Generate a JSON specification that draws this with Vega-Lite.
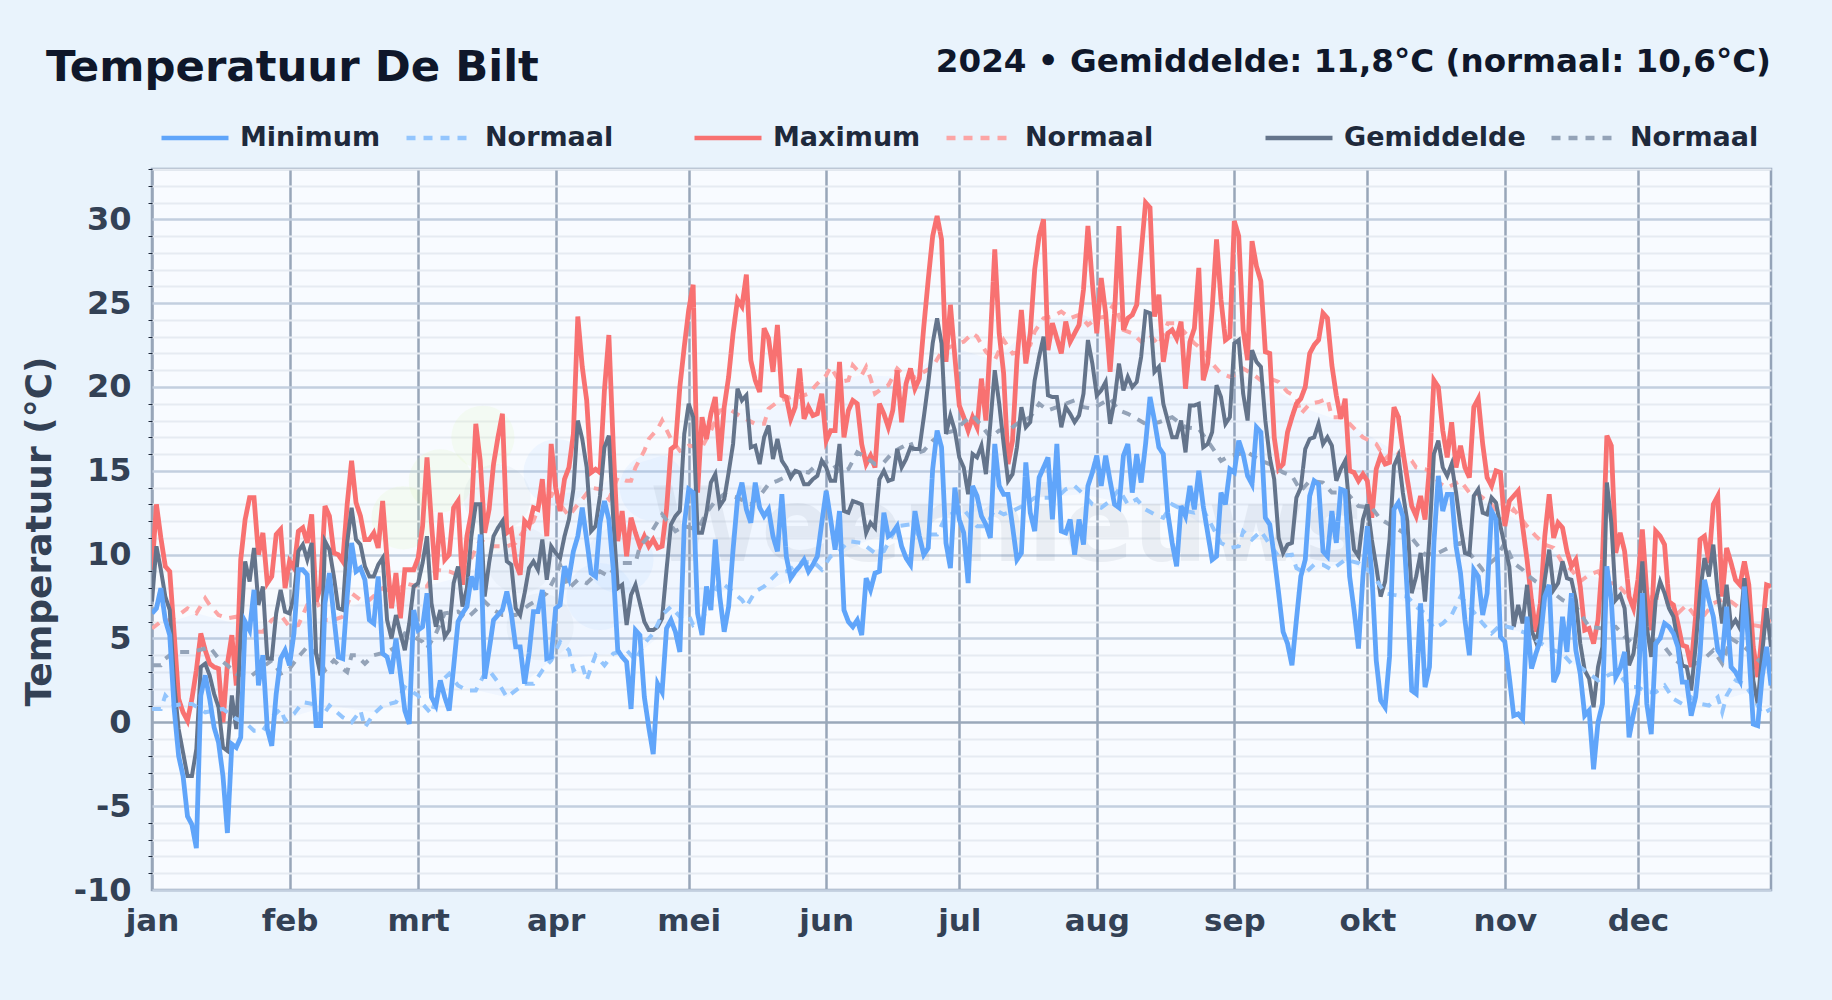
{
"$schema":"https://vega.github.io/schema/vega-lite/v6.json",
"autosize":{"type":"none"},
"width":1619,"height":721,
"padding":{"left":152,"top":169,"right":61,"bottom":110},
"background":"#e9f3fc",
"config":{"font":"DejaVu Sans","view":{"fill":"#f8fbff","stroke":"#94a3b8","strokeWidth":2.5}},
"title":{"text":"Temperatuur De Bilt","anchor":"start","frame":"group","dx":-106,"offset":-45,"fontSize":43.4,"fontWeight":"bold","color":"#0f172a","font":"DejaVu Sans"},
"datasets":{
"dagen":[
{"dag":0,"max":9.1,"gem":7.2,"min":6.5},{"dag":1,"max":13,"gem":10.5,"min":6.8},{"dag":2,"max":11,"gem":9.1,"min":8},{"dag":3,"max":9.3,"gem":7.5,"min":6.1},{"dag":4,"max":9,"gem":6.7,"min":5.2},{"dag":5,"max":5.3,"gem":2.3,"min":0.8},{"dag":6,"max":1.4,"gem":-0.4,"min":-2},{"dag":7,"max":0.6,"gem":-1.8,"min":-3.2},{"dag":8,"max":0.1,"gem":-3.2,"min":-5.6},{"dag":9,"max":1.4,"gem":-3.2,"min":-6.1},
{"dag":10,"max":3.1,"gem":-1.6,"min":-7.5},{"dag":11,"max":5.3,"gem":3.3,"min":1.6},{"dag":12,"max":4.3,"gem":3.5,"min":2.8},{"dag":13,"max":3.5,"gem":2.8,"min":1.4},{"dag":14,"max":3.3,"gem":1.7,"min":-0.3},{"dag":15,"max":3.2,"gem":0.9,"min":-1.2},{"dag":16,"max":0,"gem":-1.5,"min":-3.2},{"dag":17,"max":3.5,"gem":-1.7,"min":-6.6},{"dag":18,"max":5.2,"gem":1.6,"min":-1.3},{"dag":19,"max":2.2,"gem":-0.4,"min":-1.5},
{"dag":20,"max":9.7,"gem":5.3,"min":-0.9},{"dag":21,"max":12.1,"gem":9.6,"min":6},{"dag":22,"max":13.4,"gem":8.4,"min":5.5},{"dag":23,"max":13.4,"gem":10.4,"min":7.9},{"dag":24,"max":10,"gem":7,"min":2.2},{"dag":25,"max":11.3,"gem":8.1,"min":4},{"dag":26,"max":8.3,"gem":3.8,"min":-0.4},{"dag":27,"max":8.7,"gem":3.8,"min":-1.4},{"dag":28,"max":11.2,"gem":6.5,"min":1.7},{"dag":29,"max":11.5,"gem":7.9,"min":3.8},
{"dag":30,"max":8,"gem":6.6,"min":4.3},{"dag":31,"max":9.6,"gem":6.5,"min":3.4},{"dag":32,"max":9.2,"gem":7.5,"min":5.3},{"dag":33,"max":11.4,"gem":10.2,"min":9.1},{"dag":34,"max":11.6,"gem":10.6,"min":9.1},{"dag":35,"max":10.7,"gem":9.7,"min":8.8},{"dag":36,"max":12.4,"gem":10.7,"min":3.7},{"dag":37,"max":7.2,"gem":4.1,"min":-0.2},{"dag":38,"max":8.1,"gem":2.8,"min":-0.2},{"dag":39,"max":12.9,"gem":10.8,"min":7.1},
{"dag":40,"max":12.3,"gem":10.3,"min":8.9},{"dag":41,"max":10.1,"gem":8.7,"min":6.3},{"dag":42,"max":10,"gem":6.8,"min":3.9},{"dag":43,"max":9.6,"gem":6.7,"min":3.8},{"dag":44,"max":13,"gem":10.7,"min":7.5},{"dag":45,"max":15.6,"gem":12.8,"min":10.7},{"dag":46,"max":13.1,"gem":10.9,"min":9},{"dag":47,"max":12.3,"gem":10.6,"min":9.2},{"dag":48,"max":10.9,"gem":9.3,"min":8.5},{"dag":49,"max":10.9,"gem":8.7,"min":6.1},
{"dag":50,"max":11.3,"gem":8.7,"min":5.9},{"dag":51,"max":10.4,"gem":9.4,"min":8.7},{"dag":52,"max":13.2,"gem":9.8,"min":4.1},{"dag":53,"max":9.7,"gem":6.1,"min":3.9},{"dag":54,"max":6.8,"gem":5,"min":2.9},{"dag":55,"max":8.9,"gem":6.4,"min":5},{"dag":56,"max":6.2,"gem":5.3,"min":2.9},{"dag":57,"max":9.1,"gem":4.3,"min":0.7},{"dag":58,"max":9.1,"gem":5.9,"min":-0.1},{"dag":59,"max":9.1,"gem":8.1,"min":6.7},
{"dag":60,"max":9.8,"gem":8.3,"min":5.5},{"dag":61,"max":11.7,"gem":9.5,"min":5.7},{"dag":62,"max":15.8,"gem":11.1,"min":7.7},{"dag":63,"max":11.9,"gem":7.1,"min":1.5},{"dag":64,"max":8.5,"gem":5.7,"min":1},{"dag":65,"max":12.5,"gem":6.7,"min":2.5},{"dag":66,"max":9.7,"gem":5.1,"min":1.5},{"dag":67,"max":10,"gem":5.5,"min":0.7},{"dag":68,"max":12.8,"gem":8.3,"min":3.3},{"dag":69,"max":13.2,"gem":9.3,"min":6},
{"dag":70,"max":8.2,"gem":6.9,"min":6.5},{"dag":71,"max":11.1,"gem":8,"min":6.9},{"dag":72,"max":12.5,"gem":11.1,"min":8.7},{"dag":73,"max":17.8,"gem":13,"min":7.9},{"dag":74,"max":15.6,"gem":13,"min":11.2},{"dag":75,"max":11.3,"gem":7.5,"min":2.6},{"dag":76,"max":12.7,"gem":9.5,"min":4.3},{"dag":77,"max":15.4,"gem":11.1,"min":6.1},{"dag":78,"max":17,"gem":11.6,"min":6.4},{"dag":79,"max":18.4,"gem":12,"min":6.7},
{"dag":80,"max":11.3,"gem":9.6,"min":7.8},{"dag":81,"max":11.5,"gem":9.4,"min":6.5},{"dag":82,"max":9.5,"gem":6.8,"min":4.5},{"dag":83,"max":8.8,"gem":6.4,"min":4.5},{"dag":84,"max":12,"gem":7.7,"min":2.3},{"dag":85,"max":11.7,"gem":9.2,"min":4.1},{"dag":86,"max":12.8,"gem":9.6,"min":6.6},{"dag":87,"max":12.7,"gem":9.1,"min":6.6},{"dag":88,"max":14.5,"gem":10.9,"min":7.9},{"dag":89,"max":11.1,"gem":8.5,"min":3.8},
{"dag":90,"max":16.6,"gem":10.5,"min":3.9},{"dag":91,"max":14,"gem":10.1,"min":6.8},{"dag":92,"max":12.6,"gem":9.8,"min":7},{"dag":93,"max":14.5,"gem":11.1,"min":9.3},{"dag":94,"max":15.2,"gem":12.1,"min":8.6},{"dag":95,"max":17.2,"gem":13.9,"min":10.2},{"dag":96,"max":24.2,"gem":18,"min":11.1},{"dag":97,"max":21.2,"gem":16.9,"min":12.8},{"dag":98,"max":19.2,"gem":15.2,"min":10.9},{"dag":99,"max":14.9,"gem":11.4,"min":8.9},
{"dag":100,"max":15.1,"gem":11.7,"min":8.7},{"dag":101,"max":14.9,"gem":13.5,"min":11.9},{"dag":102,"max":19.8,"gem":16.4,"min":13.2},{"dag":103,"max":23.1,"gem":17.1,"min":12.1},{"dag":104,"max":16.4,"gem":12.1,"min":9.1},{"dag":105,"max":10.8,"gem":8,"min":4.3},{"dag":106,"max":12.6,"gem":8.2,"min":3.9},{"dag":107,"max":9.9,"gem":5.8,"min":3.6},{"dag":108,"max":12.2,"gem":7.6,"min":0.8},{"dag":109,"max":11.3,"gem":8.2,"min":5.5},
{"dag":110,"max":10.5,"gem":7.1,"min":5.2},{"dag":111,"max":11.1,"gem":6,"min":1.5},{"dag":112,"max":10.5,"gem":5.5,"min":-0.3},{"dag":113,"max":10.9,"gem":5.5,"min":-1.9},{"dag":114,"max":10.4,"gem":5.7,"min":2.3},{"dag":115,"max":10.5,"gem":6.2,"min":1.8},{"dag":116,"max":12.7,"gem":9.1,"min":5.6},{"dag":117,"max":16.3,"gem":11.8,"min":6.1},{"dag":118,"max":16.5,"gem":12.3,"min":5.4},{"dag":119,"max":20,"gem":12.6,"min":4.2},
{"dag":120,"max":22.4,"gem":17.2,"min":11.8},{"dag":121,"max":24.6,"gem":19,"min":13.9},{"dag":122,"max":26.1,"gem":18.2,"min":13.7},{"dag":123,"max":13.7,"gem":11.3,"min":6.5},{"dag":124,"max":18.2,"gem":11.3,"min":5.2},{"dag":125,"max":16.9,"gem":12.5,"min":8.1},{"dag":126,"max":18.4,"gem":14.3,"min":6.7},{"dag":127,"max":19.4,"gem":14.8,"min":10.9},{"dag":128,"max":15.6,"gem":12.9,"min":7.5},{"dag":129,"max":18.8,"gem":13.3,"min":5.4},
{"dag":130,"max":20.6,"gem":14.9,"min":6.9},{"dag":131,"max":23.2,"gem":16.6,"min":10.3},{"dag":132,"max":25.2,"gem":19.9,"min":13.3},{"dag":133,"max":24.8,"gem":19.2,"min":14.3},{"dag":134,"max":26.7,"gem":19.5,"min":12.7},{"dag":135,"max":21.6,"gem":16.4,"min":11.9},{"dag":136,"max":20.4,"gem":16.5,"min":14.3},{"dag":137,"max":19.7,"gem":15.4,"min":12.8},{"dag":138,"max":23.5,"gem":17,"min":12.3},{"dag":139,"max":22.9,"gem":17.7,"min":12.7},
{"dag":140,"max":20.9,"gem":15.7,"min":11.1},{"dag":141,"max":23.7,"gem":16.9,"min":10.2},{"dag":142,"max":19.5,"gem":15.6,"min":13.6},{"dag":143,"max":19.4,"gem":15.2,"min":9.9},{"dag":144,"max":18.1,"gem":14.6,"min":8.6},{"dag":145,"max":18.8,"gem":15,"min":9},{"dag":146,"max":21.1,"gem":14.9,"min":9.3},{"dag":147,"max":18.1,"gem":14.2,"min":9.7},{"dag":148,"max":18.8,"gem":14.2,"min":9},{"dag":149,"max":18.3,"gem":14.5,"min":9.4},
{"dag":150,"max":18.4,"gem":14.7,"min":9.9},{"dag":151,"max":19.6,"gem":15.6,"min":11.9},{"dag":152,"max":16.8,"gem":15.2,"min":13.8},{"dag":153,"max":17.4,"gem":14.4,"min":12.1},{"dag":154,"max":17.4,"gem":14.4,"min":10.3},{"dag":155,"max":21.5,"gem":16.6,"min":12.6},{"dag":156,"max":17,"gem":12.6,"min":6.7},{"dag":157,"max":18.6,"gem":12.5,"min":6},{"dag":158,"max":19.2,"gem":13.2,"min":5.7},{"dag":159,"max":19,"gem":13.1,"min":6.1},
{"dag":160,"max":16.6,"gem":13,"min":5.2},{"dag":161,"max":15.4,"gem":11.3,"min":8.6},{"dag":162,"max":15.9,"gem":11.9,"min":7.9},{"dag":163,"max":15.2,"gem":11.6,"min":8.9},{"dag":164,"max":19,"gem":14.5,"min":9},{"dag":165,"max":18.4,"gem":15,"min":12.5},{"dag":166,"max":17.6,"gem":14.4,"min":11.1},{"dag":167,"max":18.6,"gem":14.5,"min":11.3},{"dag":168,"max":21,"gem":16.3,"min":11.7},{"dag":169,"max":17.9,"gem":15.2,"min":10.5},
{"dag":170,"max":20.2,"gem":15.7,"min":9.8},{"dag":171,"max":21.1,"gem":16.4,"min":9.4},{"dag":172,"max":19.9,"gem":16.3,"min":12.6},{"dag":173,"max":20.5,"gem":16.3,"min":11.1},{"dag":174,"max":23.6,"gem":18.2,"min":10},{"dag":175,"max":26.4,"gem":20.2,"min":10.4},{"dag":176,"max":29,"gem":22.6,"min":15.1},{"dag":177,"max":30.2,"gem":24.1,"min":17.4},{"dag":178,"max":28.8,"gem":22.6,"min":16.4},{"dag":179,"max":21.5,"gem":17.2,"min":10.7},
{"dag":180,"max":24.9,"gem":18.3,"min":9.2},{"dag":181,"max":21.8,"gem":17.4,"min":14},{"dag":182,"max":18.9,"gem":15.8,"min":12.1},{"dag":183,"max":18.2,"gem":15.2,"min":11.3},{"dag":184,"max":17.4,"gem":13.6,"min":8.3},{"dag":185,"max":18.2,"gem":16,"min":14.1},{"dag":186,"max":17.6,"gem":15.8,"min":13.5},{"dag":187,"max":20.5,"gem":16.5,"min":12.3},{"dag":188,"max":18,"gem":14.8,"min":11.8},{"dag":189,"max":22.8,"gem":17.8,"min":11},
{"dag":190,"max":28.2,"gem":21,"min":16.6},{"dag":191,"max":23.2,"gem":19,"min":14.1},{"dag":192,"max":20.8,"gem":16.6,"min":13.6},{"dag":193,"max":15.4,"gem":14.4,"min":13.6},{"dag":194,"max":16.8,"gem":14.8,"min":11.7},{"dag":195,"max":21.6,"gem":16.4,"min":9.7},{"dag":196,"max":24.6,"gem":18.8,"min":10.1},{"dag":197,"max":21.4,"gem":17.6,"min":15.5},{"dag":198,"max":23.2,"gem":17.9,"min":12.5},{"dag":199,"max":27,"gem":20.4,"min":11.4},
{"dag":200,"max":29,"gem":21.8,"min":14.6},{"dag":201,"max":30,"gem":23,"min":15.2},{"dag":202,"max":22.2,"gem":19.5,"min":15.8},{"dag":203,"max":23.8,"gem":19.4,"min":12.1},{"dag":204,"max":22.9,"gem":19.4,"min":16.6},{"dag":205,"max":22,"gem":17.6,"min":11.4},{"dag":206,"max":23.9,"gem":18.8,"min":11.3},{"dag":207,"max":22.7,"gem":18.4,"min":12.1},{"dag":208,"max":23.2,"gem":17.9,"min":10},{"dag":209,"max":23.7,"gem":18.3,"min":12.1},
{"dag":210,"max":25.8,"gem":19.6,"min":10.6},{"dag":211,"max":29.6,"gem":22.8,"min":14.1},{"dag":212,"max":26.2,"gem":21.4,"min":14.9},{"dag":213,"max":23.2,"gem":19.5,"min":15.9},{"dag":214,"max":26.5,"gem":19.8,"min":14.1},{"dag":215,"max":24.4,"gem":20.3,"min":15.9},{"dag":216,"max":20.9,"gem":17.8,"min":14.4},{"dag":217,"max":24.4,"gem":19.2,"min":13},{"dag":218,"max":29.6,"gem":21.4,"min":12.8},{"dag":219,"max":23.4,"gem":19.8,"min":15.9},
{"dag":220,"max":24.1,"gem":20.6,"min":16.6},{"dag":221,"max":24.3,"gem":20,"min":13.7},{"dag":222,"max":24.9,"gem":20.3,"min":16},{"dag":223,"max":28,"gem":21.8,"min":14.3},{"dag":224,"max":31,"gem":24.5,"min":16.6},{"dag":225,"max":30.7,"gem":24.4,"min":19.4},{"dag":226,"max":24.2,"gem":20.9,"min":18},{"dag":227,"max":25.5,"gem":21.2,"min":16.4},{"dag":228,"max":21.5,"gem":19,"min":16},{"dag":229,"max":23.2,"gem":18,"min":12.5},
{"dag":230,"max":23.4,"gem":17,"min":10.7},{"dag":231,"max":22.9,"gem":17,"min":9.3},{"dag":232,"max":23.9,"gem":18,"min":12.9},{"dag":233,"max":19.9,"gem":16.1,"min":12.3},{"dag":234,"max":22.7,"gem":18.9,"min":14.1},{"dag":235,"max":23.5,"gem":18.9,"min":12.7},{"dag":236,"max":27.1,"gem":19,"min":15},{"dag":237,"max":20.4,"gem":16.4,"min":12.9},{"dag":238,"max":21.4,"gem":16.6,"min":11.3},{"dag":239,"max":24.6,"gem":17.3,"min":9.7},
{"dag":240,"max":28.8,"gem":20.1,"min":9.9},{"dag":241,"max":25.2,"gem":19.4,"min":13.7},{"dag":242,"max":22.8,"gem":17.8,"min":13},{"dag":243,"max":23,"gem":18.2,"min":15.1},{"dag":244,"max":29.9,"gem":22.6,"min":14.9},{"dag":245,"max":29,"gem":22.8,"min":16.8},{"dag":246,"max":23.4,"gem":19.6,"min":16},{"dag":247,"max":21.6,"gem":18,"min":14.7},{"dag":248,"max":28.7,"gem":22.2,"min":14.2},{"dag":249,"max":27.2,"gem":21.5,"min":17.6},
{"dag":250,"max":26.3,"gem":21.2,"min":17.3},{"dag":251,"max":22.1,"gem":18,"min":12.2},{"dag":252,"max":22,"gem":15.8,"min":11.8},{"dag":253,"max":17,"gem":14.5,"min":9.9},{"dag":254,"max":15.1,"gem":11,"min":7.7},{"dag":255,"max":15.4,"gem":10.1,"min":5.4},{"dag":256,"max":17.3,"gem":10.6,"min":4.7},{"dag":257,"max":18.2,"gem":10.7,"min":3.4},{"dag":258,"max":19,"gem":13.4,"min":6.1},{"dag":259,"max":19.3,"gem":14,"min":8.7},
{"dag":260,"max":20,"gem":16.3,"min":9.7},{"dag":261,"max":22,"gem":16.9,"min":13.5},{"dag":262,"max":22.5,"gem":17,"min":14.4},{"dag":263,"max":22.8,"gem":17.8,"min":14.2},{"dag":264,"max":24.4,"gem":16.6,"min":10.2},{"dag":265,"max":24.1,"gem":17,"min":9.9},{"dag":266,"max":21.3,"gem":16.5,"min":12.6},{"dag":267,"max":19.5,"gem":14.4,"min":10.7},{"dag":268,"max":18.1,"gem":15.1,"min":13.9},{"dag":269,"max":19.3,"gem":15.6,"min":13.8},
{"dag":270,"max":15,"gem":12.7,"min":8.7},{"dag":271,"max":14.9,"gem":10.3,"min":6.7},{"dag":272,"max":14.4,"gem":9.9,"min":4.4},{"dag":273,"max":14.8,"gem":12.1,"min":8.7},{"dag":274,"max":14.4,"gem":13,"min":11.7},{"dag":275,"max":12.2,"gem":10.9,"min":8.9},{"dag":276,"max":15.1,"gem":9.3,"min":3.7},{"dag":277,"max":15.9,"gem":7.5,"min":1.3},{"dag":278,"max":15.4,"gem":8.4,"min":0.9},{"dag":279,"max":15.5,"gem":10.9,"min":3.9},
{"dag":280,"max":18.8,"gem":15.3,"min":12.7},{"dag":281,"max":18.2,"gem":15.9,"min":13.1},{"dag":282,"max":16.2,"gem":13.7,"min":12.3},{"dag":283,"max":14.5,"gem":12,"min":7.7},{"dag":284,"max":12.9,"gem":7.7,"min":1.9},{"dag":285,"max":12.3,"gem":8.7,"min":1.7},{"dag":286,"max":13.5,"gem":10.1,"min":7.1},{"dag":287,"max":12.1,"gem":7.2,"min":2.1},{"dag":288,"max":15.2,"gem":11.1,"min":3.3},{"dag":289,"max":20.4,"gem":16,"min":10.7},
{"dag":290,"max":20,"gem":16.8,"min":14.7},{"dag":291,"max":17.4,"gem":15.2,"min":12.6},{"dag":292,"max":15.8,"gem":14.7,"min":13.6},{"dag":293,"max":17.9,"gem":15.4,"min":13.6},{"dag":294,"max":15.2,"gem":13.7,"min":10.5},{"dag":295,"max":16.5,"gem":11.7,"min":8.9},{"dag":296,"max":15.2,"gem":10.1,"min":6.1},{"dag":297,"max":14.6,"gem":10,"min":4},{"dag":298,"max":18.8,"gem":13.5,"min":9.1},{"dag":299,"max":19.3,"gem":13.9,"min":8.7},
{"dag":300,"max":16.6,"gem":12.5,"min":6.4},{"dag":301,"max":14.6,"gem":12.4,"min":7.7},{"dag":302,"max":14.1,"gem":13.4,"min":12.6},{"dag":303,"max":15,"gem":13.1,"min":12.1},{"dag":304,"max":14.9,"gem":11.7,"min":5.1},{"dag":305,"max":11.7,"gem":10.5,"min":4.8},{"dag":306,"max":13.2,"gem":9.3,"min":2.7},{"dag":307,"max":13.5,"gem":5.7,"min":0.4},{"dag":308,"max":13.8,"gem":7,"min":0.5},{"dag":309,"max":11.7,"gem":5.9,"min":0.2},
{"dag":310,"max":9.7,"gem":8.2,"min":6.3},{"dag":311,"max":7.3,"gem":5.5,"min":3.2},{"dag":312,"max":5.4,"gem":4.8,"min":4.1},{"dag":313,"max":7.1,"gem":5.9,"min":4.9},{"dag":314,"max":11.1,"gem":8.5,"min":7.5},{"dag":315,"max":13.6,"gem":10.3,"min":8.2},{"dag":316,"max":11,"gem":7.9,"min":2.4},{"dag":317,"max":11.9,"gem":8.3,"min":3},{"dag":318,"max":11.6,"gem":9.6,"min":6.3},{"dag":319,"max":10.2,"gem":8.6,"min":4.2},
{"dag":320,"max":9.3,"gem":8.5,"min":7.7},{"dag":321,"max":9.7,"gem":7.3,"min":4.3},{"dag":322,"max":8.1,"gem":4.7,"min":2.9},{"dag":323,"max":5.5,"gem":3.1,"min":0.4},{"dag":324,"max":5.6,"gem":2.6,"min":0.7},{"dag":325,"max":4.7,"gem":0.9,"min":-2.8},{"dag":326,"max":6.1,"gem":3.3,"min":0},{"dag":327,"max":9.7,"gem":4.5,"min":1.1},{"dag":328,"max":17.1,"gem":14.3,"min":9.3},{"dag":329,"max":16.5,"gem":11.9,"min":7.3},
{"dag":330,"max":10.1,"gem":7.3,"min":2.7},{"dag":331,"max":11.3,"gem":7.6,"min":3.2},{"dag":332,"max":10.2,"gem":6.8,"min":4.2},{"dag":333,"max":7.5,"gem":3.4,"min":-0.9},{"dag":334,"max":6.8,"gem":4.1,"min":0.5},{"dag":335,"max":8.5,"gem":6.1,"min":1.7},{"dag":336,"max":11.5,"gem":9.6,"min":7.7},{"dag":337,"max":7.7,"gem":5.7,"min":1.1},{"dag":338,"max":5.5,"gem":3.9,"min":-0.7},{"dag":339,"max":11.4,"gem":7.3,"min":4.7},
{"dag":340,"max":11.1,"gem":8.4,"min":5},{"dag":341,"max":10.6,"gem":7.7,"min":5.9},{"dag":342,"max":7.2,"gem":6.8,"min":5.7},{"dag":343,"max":7,"gem":6.3,"min":5.3},{"dag":344,"max":5.9,"gem":4.8,"min":4.5},{"dag":345,"max":4.6,"gem":3.4,"min":2.4},{"dag":346,"max":4.5,"gem":3.3,"min":2.4},{"dag":347,"max":3.3,"gem":1.9,"min":0.4},{"dag":348,"max":6.3,"gem":4.5,"min":1.5},{"dag":349,"max":10.9,"gem":7.7,"min":4.1},
{"dag":350,"max":11.1,"gem":9.8,"min":8.5},{"dag":351,"max":9.5,"gem":8.7,"min":7.3},{"dag":352,"max":13,"gem":10.6,"min":6.3},{"dag":353,"max":13.5,"gem":7.7,"min":4.3},{"dag":354,"max":7.5,"gem":5.9,"min":3.9},{"dag":355,"max":10.4,"gem":8.2,"min":6.9},{"dag":356,"max":9.5,"gem":5.7,"min":3.3},{"dag":357,"max":8.5,"gem":6.1,"min":3},{"dag":358,"max":8.2,"gem":5.6,"min":2.5},{"dag":359,"max":9.6,"gem":8.6,"min":8.1},
{"dag":360,"max":8.2,"gem":6.3,"min":4.3},{"dag":361,"max":4.5,"gem":2.5,"min":-0.1},{"dag":362,"max":2.7,"gem":1.1,"min":-0.2},{"dag":363,"max":5.3,"gem":4.1,"min":2.7},{"dag":364,"max":8.2,"gem":6.8,"min":4.5},{"dag":365,"max":8.1,"gem":4.5,"min":2.2}
],
"normaalMax":[{"dag":0,"t":5.6},{"dag":2,"t":6},{"dag":4,"t":6.1},{"dag":6,"t":6.4},{"dag":8,"t":6.8},{"dag":10,"t":6.5},{"dag":12,"t":7.4},{"dag":13,"t":7},{"dag":15,"t":6.4},{"dag":17,"t":6.2},{"dag":19,"t":6.3},{"dag":21,"t":5.7},{"dag":23,"t":5.4},{"dag":25,"t":5.4},{"dag":27,"t":6.1},{"dag":29,"t":6.4},{"dag":31,"t":5.7},{"dag":33,"t":5.8},{"dag":35,"t":7},{"dag":37,"t":7.3},{"dag":39,"t":6.1},{"dag":41,"t":6.1},{"dag":43,"t":6.3},{"dag":45,"t":7.7},{"dag":47,"t":7.3},{"dag":49,"t":7.3},{"dag":52,"t":8},{"dag":55,"t":7.7},{"dag":57,"t":8.3},{"dag":60,"t":8.1},{"dag":62,"t":8.1},{"dag":64,"t":9.1},{"dag":67,"t":9},{"dag":70,"t":8.7},{"dag":74,"t":10.9},{"dag":76,"t":10.5},{"dag":78,"t":10.5},{"dag":80,"t":10.5},{"dag":82,"t":10.7},{"dag":84,"t":11.5},{"dag":86,"t":12},{"dag":88,"t":13.5},{"dag":90,"t":13.5},{"dag":91,"t":14},{"dag":92,"t":13},{"dag":94,"t":12.3},{"dag":96,"t":13},{"dag":97,"t":13.3},{"dag":99,"t":14},{"dag":101,"t":13.9},{"dag":103,"t":13.3},{"dag":105,"t":14.6},{"dag":107,"t":14.4},{"dag":108,"t":14.4},{"dag":109,"t":15.2},{"dag":111,"t":16.2},{"dag":112,"t":16.9},{"dag":114,"t":17.5},{"dag":115,"t":18},{"dag":117,"t":16.9},{"dag":119,"t":16.2},{"dag":121,"t":16.5},{"dag":124,"t":16.4},{"dag":126,"t":17.4},{"dag":128,"t":18.6},{"dag":130,"t":18.7},{"dag":133,"t":18.2},{"dag":136,"t":17.8},{"dag":138,"t":17.8},{"dag":139,"t":18.7},{"dag":141,"t":19.1},{"dag":144,"t":19.4},{"dag":146,"t":19.4},{"dag":148,"t":19.6},{"dag":150,"t":20.2},{"dag":152,"t":20.7},{"dag":153,"t":21.2},{"dag":155,"t":20.3},{"dag":157,"t":20.4},{"dag":158,"t":21.3},{"dag":160,"t":20.7},{"dag":161,"t":21.2},{"dag":162,"t":20.5},{"dag":163,"t":19.6},{"dag":165,"t":20},{"dag":166,"t":20.1},{"dag":168,"t":21.1},{"dag":170,"t":20.6},{"dag":172,"t":20.6},{"dag":174,"t":20.9},{"dag":176,"t":21.2},{"dag":178,"t":22.1},{"dag":180,"t":22.4},{"dag":182,"t":22.6},{"dag":183,"t":22.7},{"dag":185,"t":23.2},{"dag":186,"t":23},{"dag":188,"t":22.1},{"dag":190,"t":21.6},{"dag":192,"t":22.8},{"dag":194,"t":22},{"dag":196,"t":22.1},{"dag":198,"t":22.5},{"dag":199,"t":23.3},{"dag":201,"t":24.1},{"dag":203,"t":24.2},{"dag":205,"t":24.5},{"dag":207,"t":24.1},{"dag":209,"t":24.3},{"dag":211,"t":23.7},{"dag":213,"t":24.1},{"dag":215,"t":24.2},{"dag":217,"t":25},{"dag":219,"t":23.4},{"dag":221,"t":23.2},{"dag":223,"t":22.7},{"dag":225,"t":23.1},{"dag":227,"t":22.5},{"dag":229,"t":23.8},{"dag":231,"t":23.8},{"dag":233,"t":23.2},{"dag":235,"t":22.6},{"dag":237,"t":22.2},{"dag":239,"t":21.4},{"dag":241,"t":20.8},{"dag":243,"t":20.6},{"dag":245,"t":20.8},{"dag":246,"t":21.1},{"dag":248,"t":20.8},{"dag":250,"t":20.4},{"dag":252,"t":20.5},{"dag":254,"t":20.3},{"dag":256,"t":19.7},{"dag":258,"t":19.4},{"dag":259,"t":18.4},{"dag":261,"t":19},{"dag":263,"t":19.1},{"dag":265,"t":19.3},{"dag":266,"t":18.2},{"dag":268,"t":18.2},{"dag":270,"t":17.8},{"dag":273,"t":17},{"dag":276,"t":16.6},{"dag":278,"t":15.7},{"dag":280,"t":16.2},{"dag":284,"t":15.6},{"dag":285,"t":15.2},{"dag":287,"t":15.1},{"dag":289,"t":14.9},{"dag":290,"t":14.3},{"dag":292,"t":14},{"dag":295,"t":14.4},{"dag":297,"t":13.7},{"dag":299,"t":13.6},{"dag":302,"t":13},{"dag":305,"t":12},{"dag":307,"t":12.7},{"dag":310,"t":11.7},{"dag":312,"t":11.1},{"dag":314,"t":10.6},{"dag":316,"t":10.4},{"dag":318,"t":9.5},{"dag":320,"t":9.1},{"dag":322,"t":8.4},{"dag":324,"t":8.8},{"dag":326,"t":9},{"dag":328,"t":8.3},{"dag":330,"t":8.3},{"dag":333,"t":7.5},{"dag":336,"t":7.5},{"dag":340,"t":7.4},{"dag":342,"t":7.1},{"dag":344,"t":6.5},{"dag":346,"t":7},{"dag":348,"t":6.3},{"dag":350,"t":6.4},{"dag":352,"t":7.1},{"dag":354,"t":7.3},{"dag":356,"t":7.2},{"dag":358,"t":6.8},{"dag":361,"t":5.8},{"dag":363,"t":5.7},{"dag":365,"t":6.1}],
"normaalGem":[{"dag":0,"t":3.4},{"dag":2,"t":3.4},{"dag":3,"t":3.8},{"dag":5,"t":4.2},{"dag":7,"t":4.2},{"dag":9,"t":4.2},{"dag":12,"t":4.4},{"dag":13,"t":4.5},{"dag":15,"t":3.8},{"dag":17,"t":3.4},{"dag":19,"t":2.9},{"dag":22,"t":2.7},{"dag":25,"t":3.3},{"dag":27,"t":3.7},{"dag":29,"t":2.9},{"dag":31,"t":3.2},{"dag":33,"t":3.9},{"dag":35,"t":4.5},{"dag":37,"t":4.1},{"dag":39,"t":3.1},{"dag":41,"t":3.7},{"dag":43,"t":3.2},{"dag":44,"t":3},{"dag":45,"t":4},{"dag":46,"t":4},{"dag":48,"t":3.5},{"dag":50,"t":4},{"dag":53,"t":4.2},{"dag":55,"t":4.5},{"dag":57,"t":5.3},{"dag":59,"t":5.1},{"dag":61,"t":4.8},{"dag":62,"t":4.4},{"dag":64,"t":5.3},{"dag":66,"t":6.5},{"dag":69,"t":6.6},{"dag":71,"t":6.2},{"dag":73,"t":6.7},{"dag":75,"t":7.2},{"dag":77,"t":6.7},{"dag":79,"t":6.4},{"dag":82,"t":6.4},{"dag":85,"t":7},{"dag":87,"t":7.3},{"dag":89,"t":7.7},{"dag":91,"t":8.7},{"dag":92,"t":9.4},{"dag":94,"t":8},{"dag":96,"t":8.5},{"dag":98,"t":8.3},{"dag":100,"t":8.8},{"dag":101,"t":9},{"dag":103,"t":8.7},{"dag":105,"t":9.5},{"dag":107,"t":9.5},{"dag":109,"t":9.5},{"dag":110,"t":10.5},{"dag":112,"t":11.1},{"dag":115,"t":12.4},{"dag":118,"t":11.4},{"dag":120,"t":11.7},{"dag":123,"t":11.5},{"dag":125,"t":12.5},{"dag":127,"t":13.2},{"dag":129,"t":13.6},{"dag":132,"t":13.4},{"dag":135,"t":13},{"dag":137,"t":13.5},{"dag":139,"t":14.2},{"dag":141,"t":14.4},{"dag":144,"t":14.8},{"dag":146,"t":15},{"dag":148,"t":14.9},{"dag":150,"t":15.4},{"dag":153,"t":15.6},{"dag":155,"t":14.9},{"dag":157,"t":15.1},{"dag":159,"t":16.1},{"dag":161,"t":15.8},{"dag":163,"t":15.4},{"dag":165,"t":15.5},{"dag":167,"t":16.1},{"dag":169,"t":16.4},{"dag":171,"t":16.7},{"dag":172,"t":16},{"dag":174,"t":16.2},{"dag":176,"t":16.8},{"dag":178,"t":17.2},{"dag":181,"t":17.4},{"dag":183,"t":17.9},{"dag":185,"t":18.3},{"dag":187,"t":17.7},{"dag":189,"t":17},{"dag":191,"t":17.4},{"dag":193,"t":17.4},{"dag":195,"t":17.8},{"dag":198,"t":18.2},{"dag":200,"t":19},{"dag":202,"t":18.6},{"dag":204,"t":18.8},{"dag":206,"t":19},{"dag":208,"t":19.2},{"dag":210,"t":18.8},{"dag":212,"t":18.7},{"dag":214,"t":19},{"dag":216,"t":19.3},{"dag":218,"t":18.6},{"dag":220,"t":18.4},{"dag":224,"t":17.8},{"dag":227,"t":17.9},{"dag":230,"t":18.2},{"dag":233,"t":17.6},{"dag":236,"t":17.5},{"dag":239,"t":16.4},{"dag":241,"t":15.6},{"dag":243,"t":15.9},{"dag":245,"t":16},{"dag":247,"t":16.1},{"dag":250,"t":15.6},{"dag":252,"t":15.4},{"dag":255,"t":14.9},{"dag":257,"t":14.7},{"dag":259,"t":13.8},{"dag":261,"t":14.4},{"dag":264,"t":14.3},{"dag":266,"t":13.7},{"dag":268,"t":13.7},{"dag":270,"t":13.5},{"dag":272,"t":12.9},{"dag":275,"t":12.8},{"dag":277,"t":12.1},{"dag":279,"t":11.8},{"dag":281,"t":11.5},{"dag":284,"t":11},{"dag":287,"t":10},{"dag":290,"t":10.1},{"dag":293,"t":10.5},{"dag":295,"t":10.7},{"dag":297,"t":10.1},{"dag":300,"t":9.1},{"dag":303,"t":9.8},{"dag":305,"t":10.7},{"dag":307,"t":9.5},{"dag":309,"t":9.1},{"dag":310,"t":8.8},{"dag":312,"t":8.4},{"dag":315,"t":7.9},{"dag":318,"t":7.3},{"dag":321,"t":6.9},{"dag":324,"t":5.7},{"dag":327,"t":5.6},{"dag":330,"t":5.7},{"dag":332,"t":5.1},{"dag":335,"t":4.5},{"dag":338,"t":5},{"dag":341,"t":4.5},{"dag":343,"t":3.8},{"dag":345,"t":3.4},{"dag":348,"t":3.5},{"dag":350,"t":3.8},{"dag":352,"t":4.3},{"dag":354,"t":3.5},{"dag":356,"t":5},{"dag":359,"t":4.5},{"dag":361,"t":4},{"dag":363,"t":3.5},{"dag":365,"t":3.5}],
"normaalMin":[{"dag":0,"t":0.8},{"dag":2,"t":0.8},{"dag":3,"t":1.6},{"dag":5,"t":1},{"dag":7,"t":1.1},{"dag":9,"t":1.1},{"dag":12,"t":0.6},{"dag":16,"t":0.8},{"dag":19,"t":0.2},{"dag":21,"t":0},{"dag":23,"t":-0.5},{"dag":25,"t":-0.5},{"dag":27,"t":0.3},{"dag":29,"t":0.8},{"dag":30,"t":0.1},{"dag":32,"t":0.5},{"dag":34,"t":1.2},{"dag":36,"t":1.1},{"dag":38,"t":0.2},{"dag":40,"t":1},{"dag":43,"t":0.3},{"dag":45,"t":0},{"dag":47,"t":0.7},{"dag":48,"t":-0.3},{"dag":50,"t":0.5},{"dag":52,"t":1},{"dag":55,"t":1.2},{"dag":57,"t":2.1},{"dag":60,"t":1.6},{"dag":61,"t":1.1},{"dag":63,"t":0.5},{"dag":65,"t":2.4},{"dag":67,"t":2.9},{"dag":69,"t":2.2},{"dag":71,"t":1.9},{"dag":73,"t":1.9},{"dag":75,"t":2.9},{"dag":76,"t":3.1},{"dag":78,"t":2.4},{"dag":80,"t":1.5},{"dag":82,"t":1.9},{"dag":84,"t":2.3},{"dag":86,"t":2.3},{"dag":88,"t":3.1},{"dag":90,"t":3.7},{"dag":92,"t":4.8},{"dag":94,"t":4.3},{"dag":95,"t":3.1},{"dag":97,"t":3.4},{"dag":98,"t":2.5},{"dag":99,"t":3.3},{"dag":100,"t":4},{"dag":102,"t":3.4},{"dag":104,"t":4.1},{"dag":107,"t":4.3},{"dag":109,"t":3.7},{"dag":111,"t":4.7},{"dag":113,"t":5.3},{"dag":115,"t":6.4},{"dag":117,"t":6.9},{"dag":119,"t":6.3},{"dag":121,"t":6.4},{"dag":122,"t":5.8},{"dag":124,"t":6.1},{"dag":126,"t":7.3},{"dag":128,"t":8.4},{"dag":130,"t":8},{"dag":133,"t":7.3},{"dag":134,"t":6.9},{"dag":136,"t":7.8},{"dag":138,"t":8.1},{"dag":141,"t":8.9},{"dag":143,"t":9},{"dag":146,"t":9.5},{"dag":149,"t":9.6},{"dag":151,"t":9.1},{"dag":153,"t":9.9},{"dag":155,"t":10.2},{"dag":157,"t":10.8},{"dag":160,"t":10.7},{"dag":163,"t":10.1},{"dag":165,"t":10.2},{"dag":168,"t":11.7},{"dag":171,"t":11.8},{"dag":173,"t":11.1},{"dag":175,"t":11.2},{"dag":177,"t":11.2},{"dag":179,"t":12.3},{"dag":181,"t":12.5},{"dag":183,"t":12.7},{"dag":186,"t":11.7},{"dag":188,"t":11.7},{"dag":190,"t":12.7},{"dag":192,"t":12.4},{"dag":194,"t":12.6},{"dag":197,"t":13},{"dag":199,"t":13.4},{"dag":201,"t":13.4},{"dag":204,"t":13.4},{"dag":206,"t":13.9},{"dag":208,"t":14.1},{"dag":210,"t":13.6},{"dag":212,"t":13},{"dag":214,"t":12.8},{"dag":216,"t":13.2},{"dag":218,"t":13.9},{"dag":220,"t":13},{"dag":222,"t":13.3},{"dag":224,"t":12.7},{"dag":226,"t":12.4},{"dag":228,"t":12.2},{"dag":230,"t":13},{"dag":233,"t":12.6},{"dag":235,"t":12.5},{"dag":237,"t":12.7},{"dag":239,"t":11.7},{"dag":241,"t":10.7},{"dag":243,"t":10.4},{"dag":245,"t":10.5},{"dag":246,"t":11.4},{"dag":248,"t":10.9},{"dag":250,"t":11.4},{"dag":252,"t":10.6},{"dag":254,"t":9.9},{"dag":257,"t":10},{"dag":258,"t":9.2},{"dag":260,"t":8.9},{"dag":262,"t":9.4},{"dag":264,"t":9.4},{"dag":266,"t":9.1},{"dag":269,"t":9.7},{"dag":272,"t":9.5},{"dag":275,"t":8.9},{"dag":278,"t":7.7},{"dag":280,"t":7.6},{"dag":283,"t":7.5},{"dag":285,"t":6.9},{"dag":287,"t":6.5},{"dag":289,"t":5.6},{"dag":291,"t":5.9},{"dag":293,"t":6.4},{"dag":295,"t":7.5},{"dag":297,"t":6.9},{"dag":300,"t":5.9},{"dag":302,"t":5.3},{"dag":304,"t":5.8},{"dag":307,"t":5.6},{"dag":310,"t":5.3},{"dag":312,"t":4.9},{"dag":315,"t":4.4},{"dag":318,"t":4.1},{"dag":320,"t":3.5},{"dag":322,"t":3.3},{"dag":324,"t":2.9},{"dag":326,"t":2.5},{"dag":329,"t":2.9},{"dag":331,"t":2.8},{"dag":333,"t":2.1},{"dag":335,"t":2.1},{"dag":337,"t":1.8},{"dag":339,"t":1.8},{"dag":341,"t":2.2},{"dag":343,"t":1.4},{"dag":345,"t":1.1},{"dag":347,"t":1.5},{"dag":349,"t":1.1},{"dag":351,"t":1},{"dag":353,"t":1.5},{"dag":354,"t":0.6},{"dag":355,"t":1.6},{"dag":357,"t":2.5},{"dag":359,"t":2.3},{"dag":361,"t":1.5},{"dag":363,"t":0.5},{"dag":365,"t":0.8}],
"band":[{"dag":0,"lo":0.8,"hi":5.6},{"dag":10,"lo":0.9,"hi":6.5},{"dag":20,"lo":0.1,"hi":5.8},{"dag":30,"lo":0.2,"hi":5.9},{"dag":40,"lo":1,"hi":6.3},{"dag":50,"lo":0.6,"hi":7.5},{"dag":60,"lo":1.6,"hi":8},{"dag":70,"lo":2.1,"hi":8.7},{"dag":80,"lo":1.5,"hi":10.5},{"dag":90,"lo":3.7,"hi":13.5},{"dag":100,"lo":4,"hi":14},{"dag":110,"lo":4.2,"hi":15.5},{"dag":120,"lo":6.3,"hi":16.3},{"dag":130,"lo":8,"hi":18.7},{"dag":140,"lo":8,"hi":18.7},{"dag":150,"lo":9.3,"hi":20.2},{"dag":160,"lo":10.7,"hi":20.7},{"dag":170,"lo":11.7,"hi":20.6},{"dag":180,"lo":12.4,"hi":22.4},{"dag":190,"lo":12.7,"hi":21.6},{"dag":200,"lo":13.4,"hi":24},{"dag":210,"lo":13.6,"hi":24.3},{"dag":220,"lo":13,"hi":23.2},{"dag":230,"lo":13,"hi":23.6},{"dag":240,"lo":11.2,"hi":21},{"dag":250,"lo":11.4,"hi":20.4},{"dag":260,"lo":8.9,"hi":18.7},{"dag":270,"lo":9.6,"hi":17.8},{"dag":280,"lo":7.6,"hi":16.2},{"dag":290,"lo":6,"hi":14.3},{"dag":300,"lo":5.9,"hi":13.3},{"dag":310,"lo":5.3,"hi":11.7},{"dag":320,"lo":3.5,"hi":9.1},{"dag":330,"lo":2.8,"hi":8.3},{"dag":340,"lo":2,"hi":7.4},{"dag":350,"lo":1,"hi":6.4},{"dag":360,"lo":1.8,"hi":6},{"dag":365,"lo":0.8,"hi":6.1}]
},
"encoding":{"x":{"field":"dag","type":"quantitative","title":null,"scale":{"domain":[0,365],"nice":false,"zero":false},
"axis":{"values":[0,31,60,91,121,152,182,213,244,274,305,335],"labelExpr":"['jan','feb','mrt','apr','mei','jun','jul','aug','sep','okt','nov','dec'][indexof([0,31,60,91,121,152,182,213,244,274,305,335],datum.value)]","labelFontSize":31,"labelFontWeight":"bold","labelColor":"#334155","labelPadding":16,"labelOverlap":false,"labelFlush":false,"ticks":false,"domain":false,"grid":true,"gridColor":"#98a6b9","gridWidth":2.5,"tickCount":100}}},
"layer":[
{"data":{"name":"band"},"mark":{"type":"area","color":"#3b82f6","opacity":0.045},"encoding":{"y":{"field":"lo","type":"quantitative","title":"Temperatuur (°C)","scale":{"domain":[-10,33],"nice":false,"zero":false},"axis":{"values":[-10,-9,-8,-7,-6,-5,-4,-3,-2,-1,0,1,2,3,4,5,6,7,8,9,10,11,12,13,14,15,16,17,18,19,20,21,22,23,24,25,26,27,28,29,30,31,32,33],"tickCount":100,"labelExpr":"datum.value % 5 === 0 ? datum.value : ''","labelFontSize":32,"labelFontWeight":"bold","labelColor":"#334155","labelPadding":17,"labelOverlap":false,"labelFlush":false,"domain":false,"tickSize":4,"tickWidth":1,"tickColor":{"condition":{"test":"datum.value % 5 === 0","value":"transparent"},"value":"#1e293b"},"grid":true,"gridColor":{"condition":[{"test":"datum.value === 0","value":"#9aa8ba"},{"test":"datum.value % 5 === 0","value":"#c3cfdf"}],"value":"#e6ebf2"},"gridWidth":{"condition":{"test":"datum.value % 5 === 0","value":2.5},"value":2},"titleFontSize":36,"titleFontWeight":"bold","titleColor":"#334155","titleX":-113,"titleY":362,"titleAngle":-90,"titleAlign":"center","titleBaseline":"middle"}},"y2":{"field":"hi"}}},
{"data":{"values":[{"dag":74.6,"t":17},{"dag":56.6,"t":12.2},{"dag":65,"t":14.4}]},"mark":{"type":"circle","color":"#d9f99d","opacity":0.12,"size":4000},"encoding":{"y":{"field":"t","type":"quantitative","title":"Temperatuur (°C)"}}},
{"data":{"values":[{"dag":77.8,"t":13.4},{"dag":87.5,"t":5.7},{"dag":83,"t":9.7}]},"mark":{"type":"circle","color":"#94a3b8","opacity":0.07,"size":4500},"encoding":{"y":{"field":"t","type":"quantitative","title":"Temperatuur (°C)"}}},
{"data":{"values":[{"dag":91.3,"t":14.9},{"dag":101,"t":7.5},{"dag":105.5,"t":9.7},{"dag":113,"t":14}]},"mark":{"type":"circle","color":"#93c5fd","opacity":0.1,"size":4500},"encoding":{"y":{"field":"t","type":"quantitative","title":"Temperatuur (°C)"}}},
{"data":{"values":[{"merk":"Weernieuws","dag":193,"t":11.5}]},"mark":{"type":"text","fontSize":104,"fontWeight":"bold","color":"#64748b","opacity":0.09,"align":"center","baseline":"middle"},"encoding":{"text":{"field":"merk"},"y":{"field":"t","type":"quantitative","title":"Temperatuur (°C)"}}},
{"data":{"values":[{"kop":"2024 • Gemiddelde: 11,8°C (normaal: 10,6°C)","dag":365,"t":39.4}]},"mark":{"type":"text","fontSize":32.6,"fontWeight":"bold","color":"#0f172a","align":"right","baseline":"middle"},"encoding":{"text":{"field":"kop"},"y":{"field":"t","type":"quantitative","title":"Temperatuur (°C)"}}},
{"layer":[
{"data":{"name":"normaalMax"},"mark":{"type":"line","strokeWidth":4,"clip":true},"encoding":{"y":{"field":"t","type":"quantitative","title":"Temperatuur (°C)"},"color":{"datum":"Normaal"},"strokeDash":{"datum":"Normaal"}}},
{"data":{"name":"dagen"},"mark":{"type":"line","strokeWidth":4.8,"clip":true},"encoding":{"y":{"field":"max","type":"quantitative","title":"Temperatuur (°C)"},
"color":{"datum":"Maximum","scale":{"domain":["Maximum","Normaal"],"range":["#f87171","#fca5a5"]},"legend":{"orient":"none","legendX":540,"legendY":-67,"direction":"horizontal","columns":2,"title":null,"symbolType":"stroke","symbolSize":4489,"symbolStrokeWidth":4.5,"labelFontSize":27,"labelFontWeight":"bold","labelColor":"#1e293b","labelOffset":9,"labelLimit":400,"columnPadding":16,"padding":0}},
"strokeDash":{"datum":"Maximum","scale":{"domain":["Maximum","Normaal"],"range":[[1,0],[9,8]]},"legend":{"orient":"none","legendX":540,"legendY":-67,"direction":"horizontal","columns":2,"title":null,"symbolType":"stroke","symbolSize":4489,"symbolStrokeWidth":4.5,"labelFontSize":27,"labelFontWeight":"bold","labelColor":"#1e293b","labelOffset":9,"labelLimit":400,"columnPadding":16,"padding":0}}}}
]},
{"layer":[
{"data":{"name":"normaalGem"},"mark":{"type":"line","strokeWidth":4,"clip":true},"encoding":{"y":{"field":"t","type":"quantitative","title":"Temperatuur (°C)"},"color":{"datum":"Normaal"},"strokeDash":{"datum":"Normaal"}}},
{"data":{"name":"dagen"},"mark":{"type":"line","strokeWidth":4,"clip":true},"encoding":{"y":{"field":"gem","type":"quantitative","title":"Temperatuur (°C)"},
"color":{"datum":"Gemiddelde","scale":{"domain":["Gemiddelde","Normaal"],"range":["#64748b","#94a3b8"]},"legend":{"orient":"none","legendX":1111,"legendY":-67,"direction":"horizontal","columns":2,"title":null,"symbolType":"stroke","symbolSize":4489,"symbolStrokeWidth":4.5,"labelFontSize":27,"labelFontWeight":"bold","labelColor":"#1e293b","labelOffset":9,"labelLimit":400,"columnPadding":16,"padding":0}},
"strokeDash":{"datum":"Gemiddelde","scale":{"domain":["Gemiddelde","Normaal"],"range":[[1,0],[9,8]]},"legend":{"orient":"none","legendX":1111,"legendY":-67,"direction":"horizontal","columns":2,"title":null,"symbolType":"stroke","symbolSize":4489,"symbolStrokeWidth":4.5,"labelFontSize":27,"labelFontWeight":"bold","labelColor":"#1e293b","labelOffset":9,"labelLimit":400,"columnPadding":16,"padding":0}}}}
]},
{"layer":[
{"data":{"name":"normaalMin"},"mark":{"type":"line","strokeWidth":4,"clip":true},"encoding":{"y":{"field":"t","type":"quantitative","title":"Temperatuur (°C)"},"color":{"datum":"Normaal"},"strokeDash":{"datum":"Normaal"}}},
{"data":{"name":"dagen"},"mark":{"type":"line","strokeWidth":4.8,"clip":true},"encoding":{"y":{"field":"min","type":"quantitative","title":"Temperatuur (°C)"},
"color":{"datum":"Minimum","scale":{"domain":["Minimum","Normaal"],"range":["#60a5fa","#93c5fd"]},"legend":{"orient":"none","legendX":7,"legendY":-67,"direction":"horizontal","columns":2,"title":null,"symbolType":"stroke","symbolSize":4489,"symbolStrokeWidth":4.5,"labelFontSize":27,"labelFontWeight":"bold","labelColor":"#1e293b","labelOffset":9,"labelLimit":400,"columnPadding":16,"padding":0}},
"strokeDash":{"datum":"Minimum","scale":{"domain":["Minimum","Normaal"],"range":[[1,0],[9,8]]},"legend":{"orient":"none","legendX":7,"legendY":-67,"direction":"horizontal","columns":2,"title":null,"symbolType":"stroke","symbolSize":4489,"symbolStrokeWidth":4.5,"labelFontSize":27,"labelFontWeight":"bold","labelColor":"#1e293b","labelOffset":9,"labelLimit":400,"columnPadding":16,"padding":0}}}}
]}
],
"resolve":{"scale":{"color":"independent","strokeDash":"independent"},"legend":{"color":"independent","strokeDash":"independent"}}
}
